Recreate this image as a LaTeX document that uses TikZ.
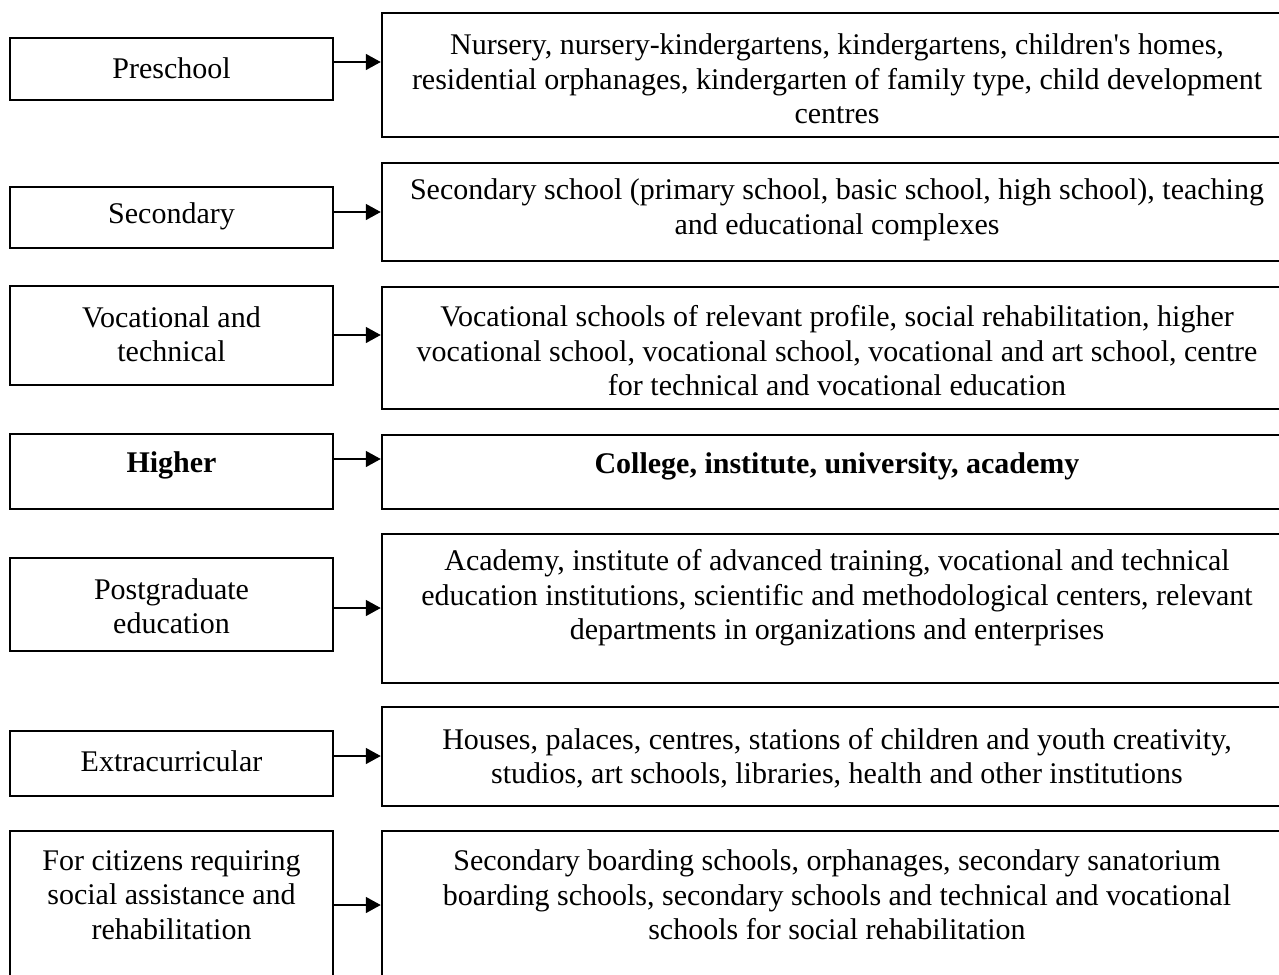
\documentclass[tikz,border=0pt]{standalone}
\usepackage{fontspec}
\newfontfamily\diagfont{Liberation Serif}
\usetikzlibrary{arrows.meta}
\begin{document}
\begin{tikzpicture}[x=1pt,y=-1pt,
  every node/.style={font=\diagfont\fontsize{30}{34.5}\selectfont},
  box/.style={draw, line width=2.5pt, inner sep=0pt},
  lbox/.style={box, minimum width=323pt},
  rbox/.style={box, minimum width=910pt},
  txt/.style={align=center, inner sep=0pt},
  arr/.style={line width=1.6pt, -{Triangle[length=15pt,width=16pt]}}]
\useasboundingbox (0,0) rectangle (1279,974);
\clip (0,0) rectangle (1279,974);

% left column: kinds of education
\node[lbox, minimum height=62pt]  (l1) at (171.5,69)   {};
\node[lbox, minimum height=61pt]  (l2) at (171.5,217.5) {};
\node[lbox, minimum height=99pt]  (l3) at (171.5,335.5) {};
\node[lbox, minimum height=75pt]  (l4) at (171.5,471.5) {};
\node[lbox, minimum height=93pt]  (l5) at (171.5,604.5) {};
\node[lbox, minimum height=65pt]  (l6) at (171.5,763.5) {};
\node[lbox, minimum height=169pt] (l7) at (171.5,915.5) {};

% right column: institutions
\node[rbox, minimum height=124pt] (r1) at (837,75)   {};
\node[rbox, minimum height=98pt]  (r2) at (837,212)  {};
\node[rbox, minimum height=122pt] (r3) at (837,348)  {};
\node[rbox, minimum height=74pt]  (r4) at (837,472)  {};
\node[rbox, minimum height=149pt] (r5) at (837,608.5) {};
\node[rbox, minimum height=99pt]  (r6) at (837,756.5) {};
\node[rbox, minimum height=169pt] (r7) at (837,915.5) {};

% labels of the left column
\node[txt] (lt1) at (171.5,68)  {Preschool};
\node[txt] (lt2) at (171.5,216) {Secondary};
\node[txt] (lt3) at (171.5,334) {Vocational and\\technical};
\node[txt] (lt4) at (171.5,465) {\bfseries Higher};
\node[txt] (lt5) at (171.5,606) {Postgraduate\\education};
\node[txt] (lt6) at (171.5,761) {Extracurricular};
\node[txt] (lt7) at (171.5,895) {For citizens requiring\\social assistance and\\rehabilitation};

% labels of the right column
\node[txt] (rt1) at (837,79) {Nursery, nursery-kindergartens, kindergartens, children's homes,\\residential orphanages, kindergarten of family type, child development\\centres};
\node[txt] (rt2) at (837,210) {Secondary school (primary school, basic school, high school), teaching\\and educational complexes};
\node[txt] (rt3) at (837,351) {Vocational schools of relevant profile, social rehabilitation, higher\\vocational school, vocational school, vocational and art school, centre\\for technical and vocational education};
\node[txt] (rt4) at (837,466) {\bfseries College, institute, university, academy};
\node[txt] (rt5) at (837,598) {Academy, institute of advanced training, vocational and technical\\education institutions, scientific and methodological centers, relevant\\departments in organizations and enterprises};
\node[txt] (rt6) at (837,758) {Houses, palaces, centres, stations of children and youth creativity,\\studios, art schools, libraries, health and other institutions};
\node[txt] (rt7) at (837,895) {Secondary boarding schools, orphanages, secondary sanatorium\\boarding schools, secondary schools and technical and vocational\\schools for social rehabilitation};

% heights of the connecting arrows
\coordinate (a1) at (0,62);
\coordinate (a2) at (0,212);
\coordinate (a3) at (0,335);
\coordinate (a4) at (0,459);
\coordinate (a5) at (0,608);
\coordinate (a6) at (0,756);
\coordinate (a7) at (0,905);

\foreach \i in {1,...,7}
  \draw[arr] (l\i.east |- a\i) -- (r\i.west |- a\i);
\end{tikzpicture}
\end{document}
